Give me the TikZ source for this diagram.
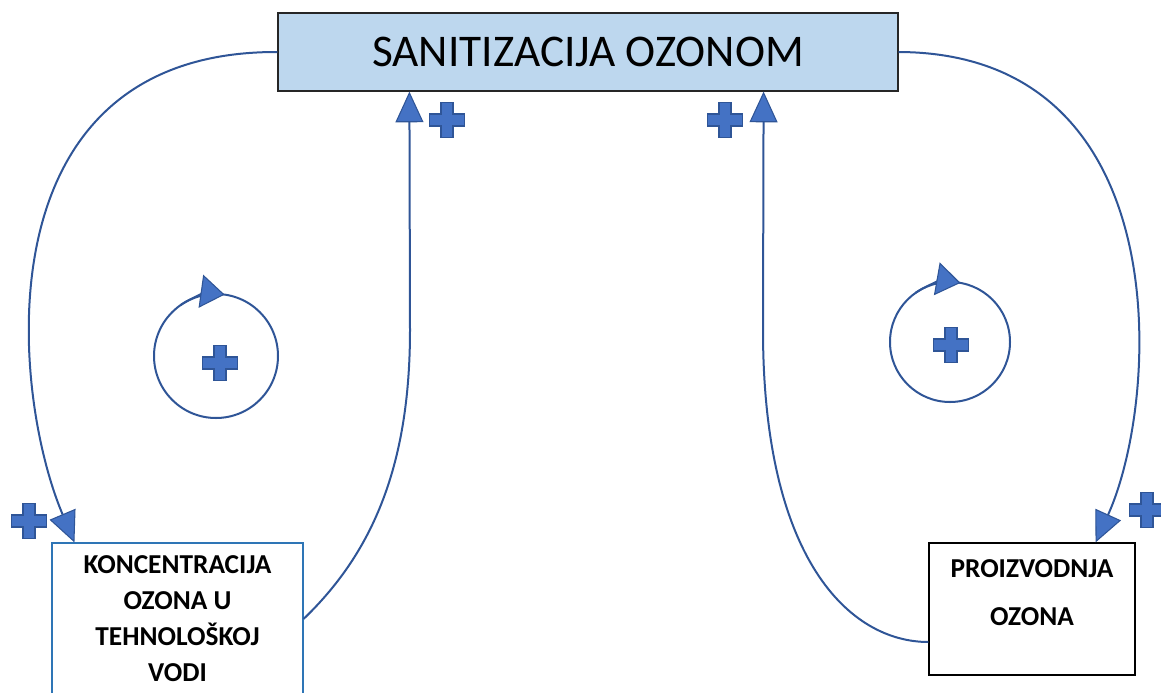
\documentclass[tikz,border=0pt]{standalone}
\usepackage{fontspec}
\setmainfont{Carlito}
\usetikzlibrary{arrows.meta}
\definecolor{linkblue}{HTML}{2F5597}
\definecolor{tipblue}{HTML}{4472C4}
\definecolor{titlefill}{HTML}{BDD7EE}
\definecolor{boxblue}{HTML}{2E75B6}

\begin{document}
\begin{tikzpicture}[x=0.75pt, y=-0.75pt,
      titlebox/.style={rectangle, draw=black!85, fill=titlefill, line width=0.9pt, inner sep=0pt, minimum width=465pt, minimum height=58.5pt, font=\fontsize{34}{40}\selectfont},
      varbox/.style={rectangle, draw, fill=white, line width=0.8pt, inner sep=0pt, align=center},
      link/.style={draw=linkblue, line width=1.5pt, -{Triangle[length=23pt, width=21pt, fill=tipblue, line width=0.8pt]}},
      loopring/.style={circle, draw=linkblue, line width=1.5pt, inner sep=0pt, outer sep=0pt},
      looptip/.style={draw=linkblue, line width=1.5pt, -{Triangle[length=18pt, width=25pt, fill=tipblue, line width=0.8pt]}},
      plusmark/.style={minimum size=32pt, inner sep=0pt, path picture={
          \filldraw[fill=tipblue, draw=linkblue, line width=0.8pt]
            ([shift={(-6,-17.5)}]path picture bounding box.center) -- ++(12,0) -- ++(0,11.5) -- ++(11.5,0)
            -- ++(0,12) -- ++(-11.5,0) -- ++(0,11.5) -- ++(-12,0) -- ++(0,-11.5) -- ++(-11.5,0) -- ++(0,-12)
            -- ++(11.5,0) -- cycle;}}
      ]
    \useasboundingbox (0,0) rectangle (1161,693);

    \node [titlebox] (san) at (588, 52) {SANITIZACIJA OZONOM};

    \node [varbox, draw=boxblue, minimum width=188.25pt, minimum height=114pt,
           font=\bfseries\fontsize{20.5}{27}\selectfont] (kon) at (177.5, 619)
          {KONCENTRACIJA\\OZONA U\\TEHNOLOŠKOJ\\VODI};
    \node [varbox, minimum width=154.5pt, minimum height=99pt, text depth=24pt,
           font=\bfseries\fontsize{20.5}{36}\selectfont] (pro) at (1032, 609)
          {PROIZVODNJA\\OZONA};

    % left loop
    \path [link] (san.west) .. controls (-20, 51) and (10, 390) .. ([xshift=17.25pt]kon.north west);
    \path [link] (kon.east) .. controls (370, 555) and (410, 470) .. (410, 330) -- ([xshift=99pt]san.south west);

    % right loop
    \path [link] (san.east) .. controls (1180, 53) and (1160, 400) .. ([xshift=-30pt]pro.north east);
    \path [link] ([yshift=-24.75pt]pro.west) .. controls (850, 642) and (763, 560) .. (763, 330) -- ([xshift=-101.25pt]san.south east);

    % loop markers
    \node [loopring, minimum size=93pt] (loopL) at (216, 356) {};
    \path [looptip] (loopL.125) arc[start angle=125, end angle=82, radius=46.5pt];
    \node [loopring, minimum size=90pt] (loopR) at (950, 342) {};
    \path [looptip] (loopR.125) arc[start angle=125, end angle=80, radius=45pt];

    % polarities
    \node [plusmark] (pL) at (447, 120) {};
    \node [plusmark] (pR) at (725, 120) {};
    \node [plusmark] (pKon) at (29, 521) {};
    \node [plusmark] (pPro) at (1147, 510) {};
    \node [plusmark] (pLoopL) at (220, 363) {};
    \node [plusmark] (pLoopR) at (951, 345) {};
  \end{tikzpicture}
\end{document}
